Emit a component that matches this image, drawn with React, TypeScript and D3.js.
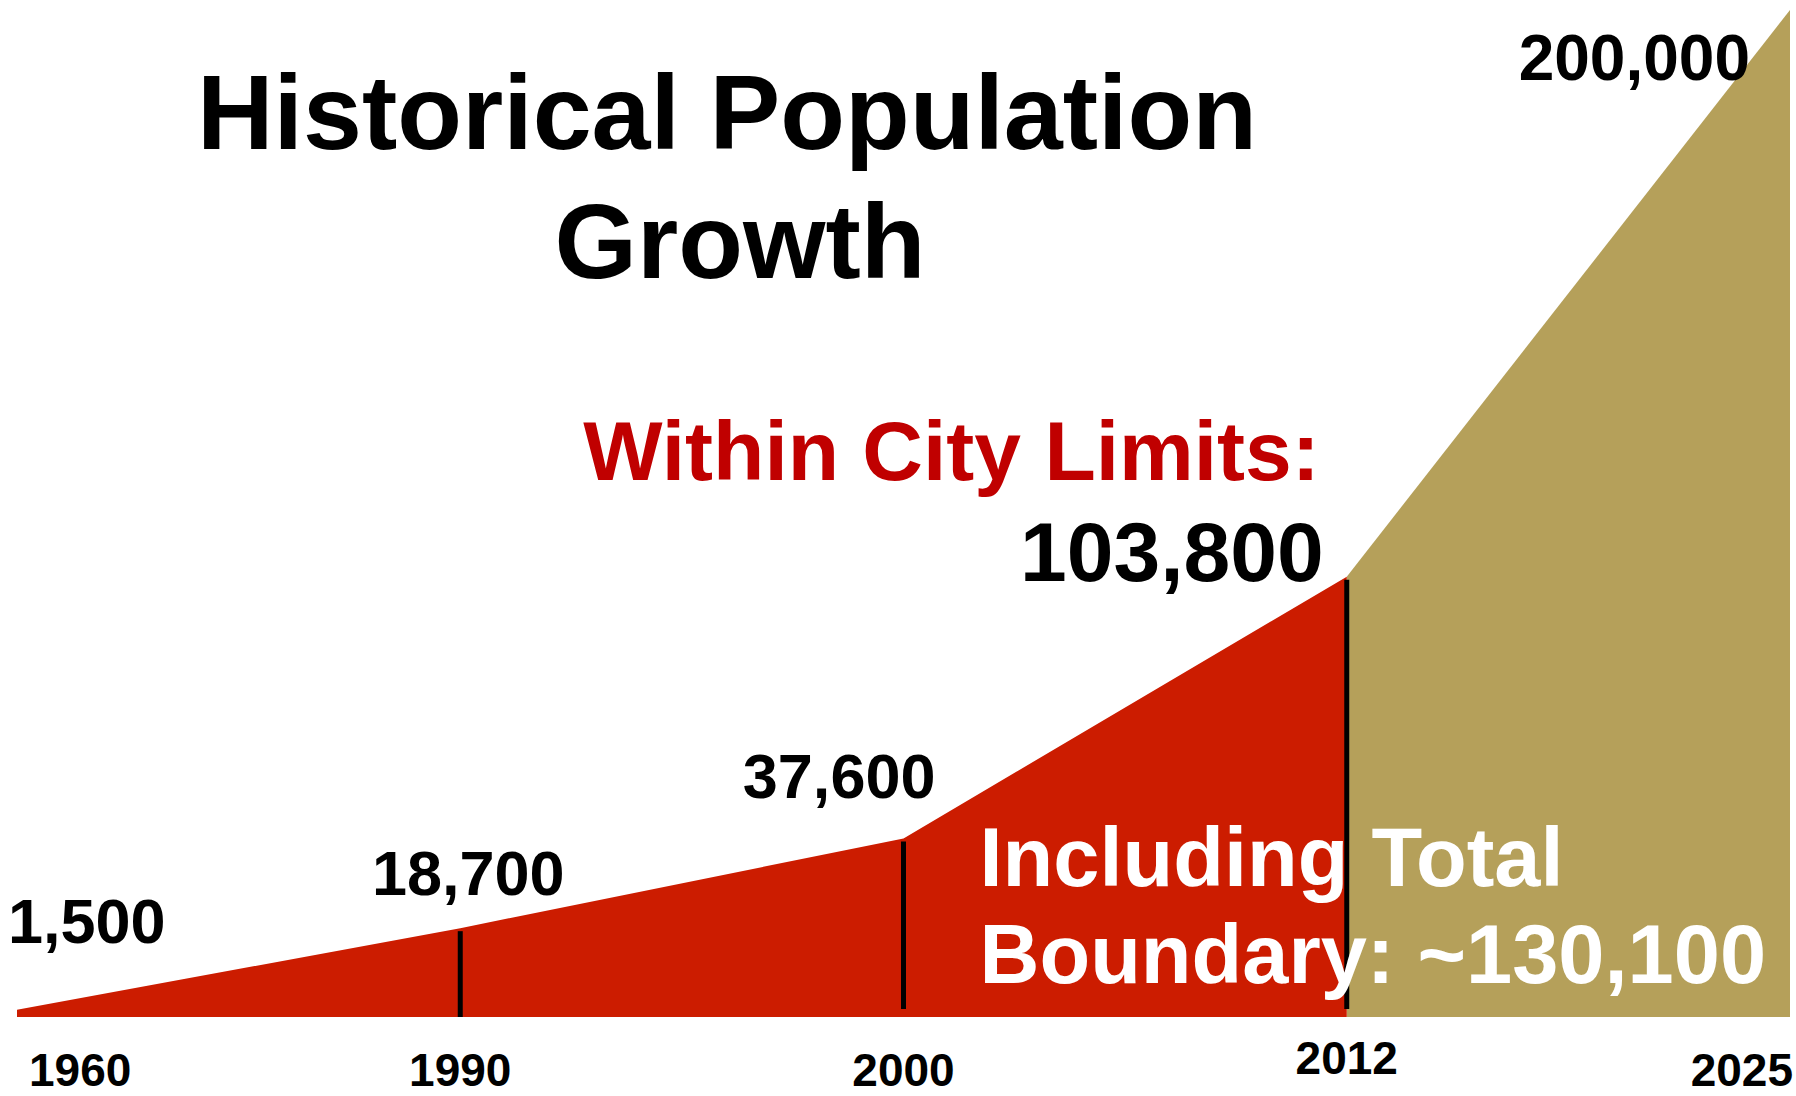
import * as d3 from 'd3';

// x categories (the original slide spaces them evenly, not by year)
const years = ['1960', '1990', '2000', '2012', '2025'];

// population within city limits
const cityYears = ['1960', '1990', '2000', '2012'];
const cityPop = [1500, 18700, 37600, 103800];

// projected growth including total boundary
const projYears = ['2012', '2025'];
const projPop = [103800, 200000];

// years that get a black marker line
const markerYears = ['1990', '2000', '2012'];

const titleLines = ['Historical Population', 'Growth'];
const cityLabel = 'Within City Limits:';
const boundaryLines = ['Including Total', 'Boundary: ~130,100'];

// the slide is not drawn to scale, so the y scale is broken into pieces
const yBreaks = [0, 40000, 100000, 200000];
const yBreakFrac = [0, 0.1887, 0.415, 1];

const RED = '#cc1c00';
const TAN = '#b5a05a';
const RED_TEXT = '#c00000';
const FONT = '"Liberation Sans", Arial, Helvetica, sans-serif';

export default function App() {
  const width = 1796;
  const height = 1096;
  const margin = { top: 10, right: 6, bottom: 79, left: 17 };
  const baseline = height - margin.bottom;
  const innerH = baseline - margin.top;

  const x = d3.scalePoint<string>()
    .domain(years)
    .range([margin.left, width - margin.right]);

  const y = d3.scaleLinear()
    .domain(yBreaks)
    .range(yBreakFrac.map(f => baseline - f * innerH));

  const fmt = d3.format(',');

  const area = d3.area<[string, number]>()
    .x(d => x(d[0]) as number)
    .y0(baseline)
    .y1(d => y(d[1]))
    .curve(d3.curveLinear);

  const cityData = cityYears.map((yr, i) => [yr, cityPop[i]] as [string, number]);
  const projData = projYears.map((yr, i) => [yr, projPop[i]] as [string, number]);

  const popAt = (yr: string) => {
    const i = cityYears.indexOf(yr);
    return i >= 0 ? cityPop[i] : projPop[projYears.indexOf(yr)];
  };

  const xs = (yr: string) => x(yr) as number;

  return (
    <svg
      width={width}
      height={height}
      style={{ position: 'absolute', left: 0, top: 0, background: '#fff' }}
      fontFamily={FONT}
      fontWeight="bold"
    >
      {/* areas */}
      <path d={area(projData) as string} fill={TAN} />
      <path d={area(cityData) as string} fill={RED} />

      {/* marker lines */}
      {markerYears.map(yr => (
        <line
          key={yr}
          x1={xs(yr)}
          x2={xs(yr)}
          y1={y(popAt(yr)) + 3}
          y2={baseline - (yr === '1990' ? 0 : 8)}
          stroke="#000"
          strokeWidth={5}
        />
      ))}

      {/* title */}
      <text x={727} y={149} fontSize={106} textAnchor="middle" fill="#000">{titleLines[0]}</text>
      <text x={740} y={278} fontSize={106} textAnchor="middle" fill="#000">{titleLines[1]}</text>

      {/* value labels */}
      <text x={xs('1960') - 9} y={y(cityPop[0]) - 67} fontSize={63} fill="#000">{fmt(cityPop[0])}</text>
      <text x={xs('1990') + 8} y={y(cityPop[1]) - 33} fontSize={63} textAnchor="middle" fill="#000">{fmt(cityPop[1])}</text>
      <text x={xs('2000') + 32} y={y(cityPop[2]) - 40} fontSize={63} textAnchor="end" fill="#000">{fmt(cityPop[2])}</text>
      <text x={xs('2012') - 23} y={y(cityPop[3]) + 4} fontSize={84} textAnchor="end" fill="#000">{fmt(cityPop[3])}</text>
      <text x={xs('2012') - 27} y={y(cityPop[3]) - 97} fontSize={84} textAnchor="end" fill={RED_TEXT}>{cityLabel}</text>
      <text x={xs('2025') - 40} y={y(projPop[1]) + 70} fontSize={64} textAnchor="end" fill="#000">{fmt(projPop[1])}</text>

      {/* boundary note */}
      {boundaryLines.map((t, i) => (
        <text key={t} x={xs('2000') + 76} y={886 + i * 97} fontSize={83} fill="#fff">{t}</text>
      ))}

      {/* x axis labels */}
      {years.map((yr, i) => {
        const anchor = i === 0 ? 'start' : i === years.length - 1 ? 'end' : 'middle';
        const dx = i === 0 ? 12 : i === years.length - 1 ? 3 : 0;
        const dy = yr === '2012' ? -12 : 0;
        return (
          <text key={yr} x={xs(yr) + dx} y={baseline + 69 + dy} fontSize={46} textAnchor={anchor} fill="#000">
            {yr}
          </text>
        );
      })}
    </svg>
  );
}
